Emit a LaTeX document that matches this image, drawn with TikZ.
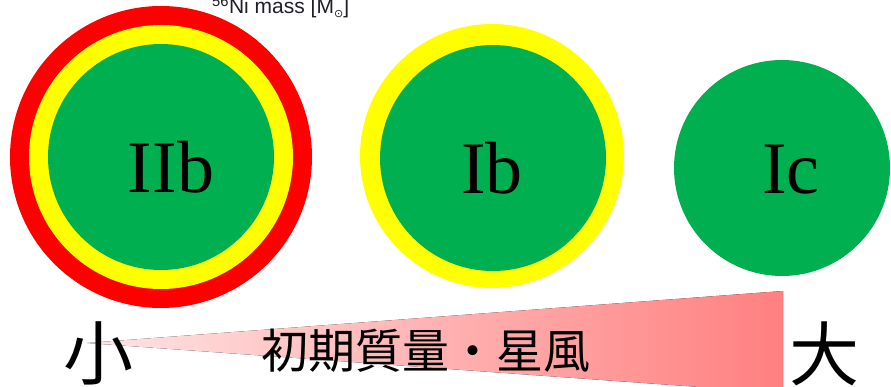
\documentclass[tikz,border=0pt]{standalone}
\usepackage{fontspec}
\setmainfont{Liberation Serif}
\newfontfamily\cjk{Noto Sans CJK JP}
\newfontfamily\sansf{Liberation Sans}
\newfontfamily\dejavu{DejaVu Sans}
\definecolor{sngreen}{RGB}{0,176,80}
\definecolor{snyellow}{RGB}{255,255,0}
\definecolor{snred}{RGB}{255,0,0}
\definecolor{wedgeL}{RGB}{255,228,228}
\definecolor{wedgeR}{RGB}{255,128,128}
\definecolor{toptext}{RGB}{30,30,40}
\tikzset{
  disc/.style={circle, inner sep=0pt, draw=none},
  typelabel/.style={inner sep=0pt, anchor=base, font=\fontsize{74}{74}\selectfont},
  bigcjk/.style={inner sep=0pt, font=\cjk\fontsize{70}{70}\selectfont},
}
\begin{document}
\begin{tikzpicture}[x=1pt,y=-1pt]
\useasboundingbox (0,0) rectangle (891,387);
% wedge
\coordinate (tip) at (87,343);
\coordinate (wtop) at (783,291);
\coordinate (wbot) at (783,393);
\fill[left color=wedgeL, right color=wedgeR] (tip) -- (wtop) -- (wbot) -- cycle;
% IIb
\node[disc, fill=snred, minimum size=302pt] (iibR) at (161,157) {};
\node[disc, fill=snyellow, minimum size=264pt] (iibY) at (161,157) {};
\node[disc, fill=sngreen, minimum size=226pt] (iibG) at (161,157) {};
\node[typelabel] (iibT) at (171,193) {IIb};
% Ib
\node[disc, fill=snyellow, minimum size=264pt] (ibY) at (492,156) {};
\node[disc, fill=sngreen, minimum size=226pt] (ibG) at (493,158) {};
\node[typelabel] (ibT) at (492,194) {Ib};
% Ic
\node[disc, fill=sngreen, minimum size=216pt] (icG) at (782,168) {};
\node[typelabel] (icT) at (791,194) {Ic};
% top text
\node[inner sep=0pt, anchor=base west, text=toptext, font=\sansf\fontsize{21}{21}\selectfont] (ni) at (212,14)
  {\textsuperscript{56}Ni mass [M\raisebox{-0.15em}{\dejavu\fontsize{11}{11}\selectfont ⊙}]};
% bottom labels
\node[bigcjk] (small) at (98,353) {小};
\node[bigcjk] (large) at (824,354) {大};
\node[inner sep=0pt, font=\cjk\fontsize{47}{47}\selectfont] (axis) at (426,351) {初期質量・星風};
\end{tikzpicture}
\end{document}
